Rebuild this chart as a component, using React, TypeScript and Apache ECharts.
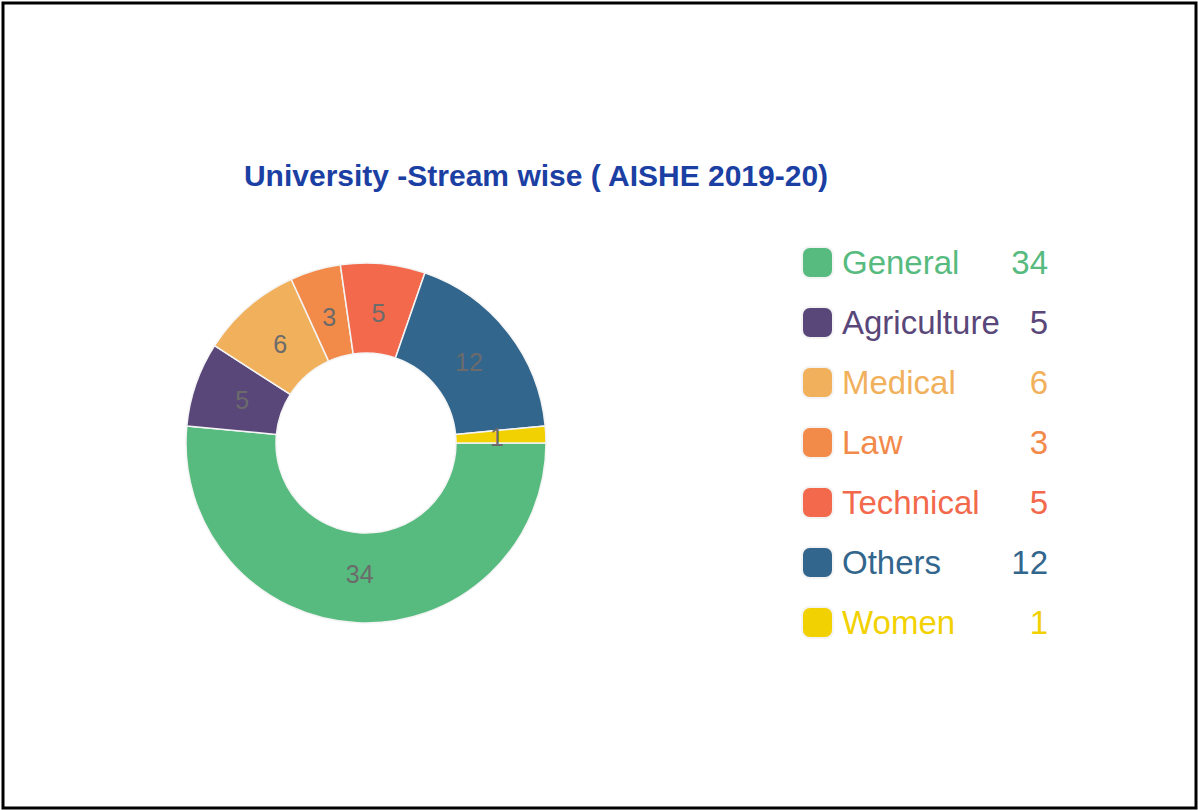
import React, { useEffect, useRef } from "react";
import * as echarts from "echarts";

const categories = ["General", "Agriculture", "Medical", "Law", "Technical", "Others", "Women"];
const values = [34, 5, 6, 3, 5, 12, 1];
const colors = ["#57bb7f", "#5a477a", "#f1b05b", "#f28a4a", "#f2694b", "#33668d", "#f2d102"];
const titleText = "University -Stream wise ( AISHE 2019-20)";

const FONT = "Liberation Sans, Arial, sans-serif";

export default function App() {
  const ref = useRef<HTMLDivElement>(null);
  useEffect(() => {
    if (!ref.current) return;
    const chart = echarts.init(ref.current, undefined, { renderer: "svg" });
    const valueOf: Record<string, number> = {};
    categories.forEach((c, i) => (valueOf[c] = values[i]));
    const pieData = categories.map((c, i) => ({ name: c, value: values[i] }));
    chart.setOption({
      animation: false,
      backgroundColor: "#ffffff",
      color: colors,
      title: {
        text: titleText,
        left: 531,
        top: 155,
        textAlign: "center",
        textStyle: {
          fontFamily: FONT,
          fontSize: 30,
          fontWeight: "bold",
          color: "#1b3fa3",
        },
      },
      legend: {
        orient: "vertical",
        left: 801,
        top: 246,
        padding: 0,
        itemWidth: 31,
        itemHeight: 31,
        itemGap: 27,
        icon: "roundRect",
        selectedMode: false,
        data: categories.map((c, i) => ({ name: c, textStyle: { color: colors[i] } })),
        formatter: (name: string) => `{n|${name}}{v|${valueOf[name]}}`,
        textStyle: {
          fontFamily: FONT,
          fontSize: 33,
          rich: {
            n: { width: 161, padding: [0, 0, 0, 4], fontSize: 33, lineHeight: 33, fontFamily: FONT },
            v: { width: 45, align: "right", fontSize: 33, lineHeight: 33, fontFamily: FONT },
          },
        },
      },
      graphic: [
        {
          type: "rect",
          shape: { x: 3, y: 3, width: 1193, height: 805 },
          style: { fill: "none", stroke: "#000", lineWidth: 3 },
          silent: true,
        },
      ],
      series: [
        {
          type: "pie",
          center: [366, 443],
          radius: [90, 180],
          startAngle: 0,
          clockwise: true,
          itemStyle: { borderColor: "#f4f4f4", borderWidth: 1.5 },
          label: { show: false },
          labelLine: { show: false },
          emphasis: { disabled: true },
          data: pieData,
        },
        {
          type: "pie",
          center: [366, 443],
          radius: [90, 166],
          startAngle: 0,
          clockwise: true,
          silent: true,
          itemStyle: { color: "rgba(0,0,0,0)", borderWidth: 0 },
          label: {
            show: true,
            position: "inside",
            formatter: "{c}",
            color: "#6b6b6b",
            fontSize: 25,
            fontFamily: FONT,
          },
          labelLine: { show: false },
          emphasis: { disabled: true },
          data: pieData,
        },
      ],
    });
    return () => chart.dispose();
  }, []);
  return (
    <div
      ref={ref}
      style={{ position: "fixed", left: 0, top: 0, width: 1198, height: 810 }}
    />
  );
}
